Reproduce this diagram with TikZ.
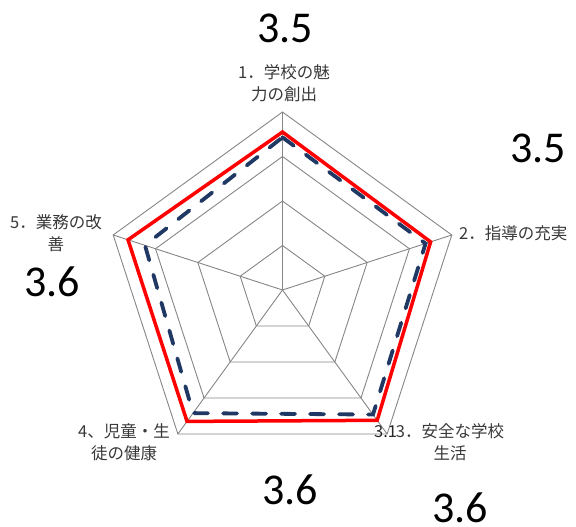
\documentclass[tikz,border=0pt]{standalone}
\usepackage{fontspec}
\setmainfont{Noto Sans CJK JP}
\newfontfamily\numfont{Carlito}
\definecolor{gridgray}{RGB}{134,134,134}
\definecolor{navy}{RGB}{31,56,100}
\tikzset{
  gridline/.style={draw=gridgray, line width=0.9pt},
  curline/.style={draw=red, line width=3.5pt, line join=miter},
  prevline/.style={draw=navy, line width=3.8pt, dash pattern=on 14pt off 15pt, line cap=round},
  axislabel/.style={font=\fontsize{16.5}{22}\selectfont, text=black!78, align=center, inner sep=0pt},
  bignum/.style={font=\numfont\fontsize{44}{44}\selectfont, inner sep=0pt},
}

\begin{document}
\begin{tikzpicture}[x=1pt,y=1pt]
    \useasboundingbox (0,0) rectangle (576,527);
    \coordinate (c) at (282.5,237);
    \begin{scope}[shift={(c)}]
        % rings and spokes
        \foreach \r in {1,...,4} {
            \draw[gridline] (90:\r*44.5) -- (18:\r*44.5) -- (-54:\r*44.5) -- (-126:\r*44.5) -- (162:\r*44.5) -- cycle;
        }
        \foreach \a [count=\i] in {90,18,-54,-126,162} {
            \coordinate (o\i) at (\a:178);
            \draw[gridline] (0,0) -- (o\i);
        }
        % this year
        \coordinate (r1) at (90:3.55*44.5);
        \coordinate (r2) at (18:3.5*44.5);
        \coordinate (r3) at (-54:3.62*44.5);
        \coordinate (r4) at (-126:3.65*44.5);
        \coordinate (r5) at (162:3.65*44.5);
        % last year
        \coordinate (p1) at (90:3.43*44.5);
        \coordinate (p2) at (18:3.38*44.5);
        \coordinate (p3) at (-54:3.46*44.5);
        \coordinate (p4) at (-126:3.42*44.5);
        \coordinate (p5) at (162:3.25*44.5);
    \end{scope}
    \draw[curline] (r1) -- (r2) -- (r3) -- (r4) -- (r5) -- cycle;
    \draw[prevline] (p1) -- (p2) -- (p3) -- (p4) -- (p5) -- cycle;

    \node[axislabel] (lab1) at (284,444) {1．学校の魅\\力の創出};
    \node[axislabel, anchor=west] (lab2) at (459,294) {2．指導の充実};
    \node[axislabel] (lab3) at (450,85) {3．安全な学校\\生活};
    \node[axislabel] (lab4) at (124,85) {4、児童・生\\徒の健康};
    \node[axislabel] (lab5) at (56,293.5) {5．業務の改\\善};
    \node[font=\fontsize{16.5}{16.5}\selectfont, text=black!85, anchor=west, inner sep=0pt] (v3) at (374,95) {3.1};

    \node[bignum] (n1) at (285,499) {3.5};
    \node[bignum] (n2) at (538,379) {3.5};
    \node[bignum] (n3) at (460,19) {3.6};
    \node[bignum] (n4) at (290,37) {3.6};
    \node[bignum] (n5) at (52,245) {3.6};
\end{tikzpicture}
\end{document}
